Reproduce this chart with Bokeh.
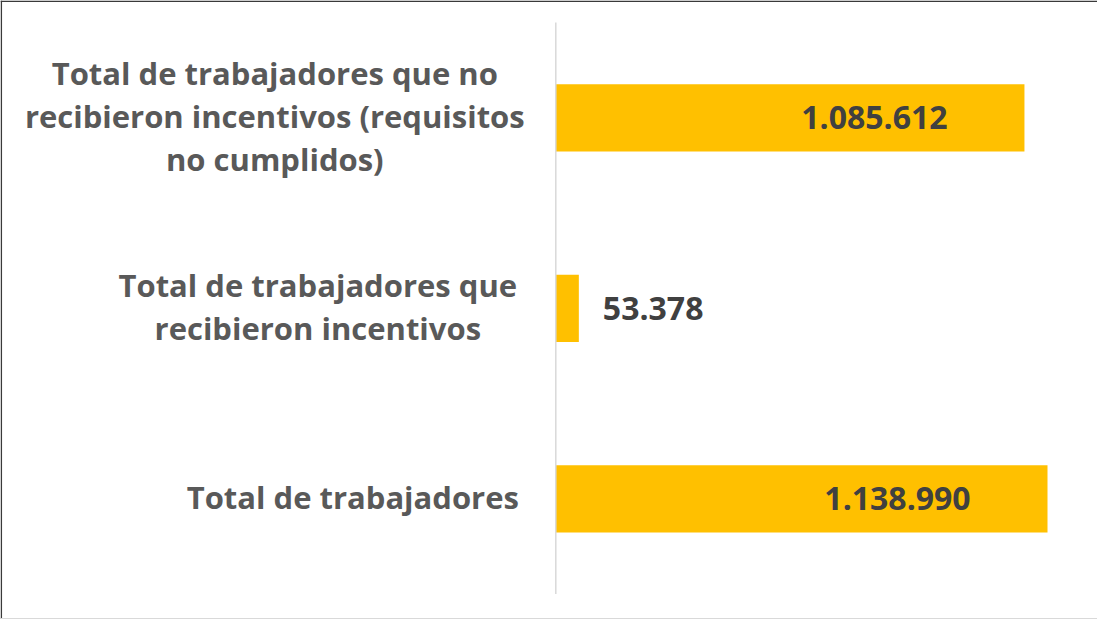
from bokeh.plotting import figure
from bokeh.models import ColumnDataSource, Range1d, Span
from bokeh.core.properties import value
from bokeh.embed import file_html
from bokeh.resources import INLINE

# ---- data (top to bottom) ----
categories = [
    "Total de trabajadores que no\nrecibieron incentivos (requisitos\nno cumplidos)",
    "Total de trabajadores que\nrecibieron incentivos",
    "Total de trabajadores",
]
values = [1085612, 53378, 1138990]

# ---- layout constants ----
W, H = 1097, 619
scale = 491.7 / 1138990.0          # px per unit
axis_px = 563.3 - 8                 # axis position inside figure
x_start = -axis_px / scale
x_end = x_start + W / scale
row_px = 190.5
bottom_center_px = 506.3 - 8
y_end = bottom_center_px / row_px
y_start = (bottom_center_px - H) / row_px

BAR = "#FFC000"
LABEL_C = "#595959"
VALUE_C = "#404040"
FONT = value("Open Sans")

n = len(categories)
ypos = [n - 1 - i for i in range(n)]   # top row highest

p = figure(width=W, height=H, output_backend="svg", toolbar_location=None,
           x_range=Range1d(x_start, x_end), y_range=Range1d(y_start, y_end),
           min_border=0, background_fill_color="white",
           border_fill_color="white")
p.axis.visible = False
p.grid.visible = False
p.outline_line_color = None

# chart border (left/top dark, bottom light)
p.add_layout(Span(location=x_start + 0.8 / scale, dimension="height",
                  line_color="#3a3a3a", line_width=1.5))
p.add_layout(Span(location=y_end - 0.8 / row_px, dimension="width",
                  line_color="#3a3a3a", line_width=1.5))
p.add_layout(Span(location=y_start + 0.8 / row_px, dimension="width",
                  line_color="#d9d9d9", line_width=1.5))

bars = ColumnDataSource(dict(y=ypos, right=values))
p.hbar(y="y", left=0, right="right", height=0.353, source=bars,
       fill_color=BAR, line_color=None)

# vertical category axis line
p.segment(x0=[0], y0=[-0.5], x1=[0], y1=[n - 0.5], line_color="#d9d9d9",
          line_width=1.5)

# category labels (each line centred within its wrapped block)
block_center_px = {3: -281, 2: -238, 1: -203}
lx, ly, lt, lxo, lyo = [], [], [], [], []
for cat, yy in zip(categories, ypos):
    lines = cat.split("\n")
    m = len(lines)
    for j, line in enumerate(lines):
        lx.append(0)
        ly.append(yy)
        lt.append(line)
        lxo.append(block_center_px[m])
        lyo.append((j - (m - 1) / 2) * 43 - 2)
p.text(x="x", y="y", text="t", x_offset="xo", y_offset="yo",
       source=ColumnDataSource(dict(x=lx, y=ly, t=lt, xo=lxo, yo=lyo)),
       text_font=FONT, text_font_style="bold", text_font_size="31px",
       text_color=LABEL_C, text_align="center", text_baseline="alphabetic")

# value labels
vmax = max(values)
in_x, in_y, in_t = [], [], []
out_x, out_y, out_t = [], [], []
for v, yy in zip(values, ypos):
    s = f"{v:,}".replace(",", ".")
    if v > 0.2 * vmax:
        in_x.append(v); in_y.append(yy); in_t.append(s)
    else:
        out_x.append(v); out_y.append(yy); out_t.append(s)
p.text(x="x", y="y", text="t", source=ColumnDataSource(dict(x=in_x, y=in_y, t=in_t)),
       x_offset=-150, y_offset=0, text_font=FONT, text_font_style="bold",
       text_font_size="32px", text_color=VALUE_C, text_align="center",
       text_baseline="alphabetic")
p.text(x="x", y="y", text="t", source=ColumnDataSource(dict(x=out_x, y=out_y, t=out_t)),
       x_offset=24, y_offset=0, text_font=FONT, text_font_style="bold",
       text_font_size="32px", text_color=VALUE_C, text_align="left",
       text_baseline="alphabetic")

open("out.html", "w").write(file_html(p, INLINE))
